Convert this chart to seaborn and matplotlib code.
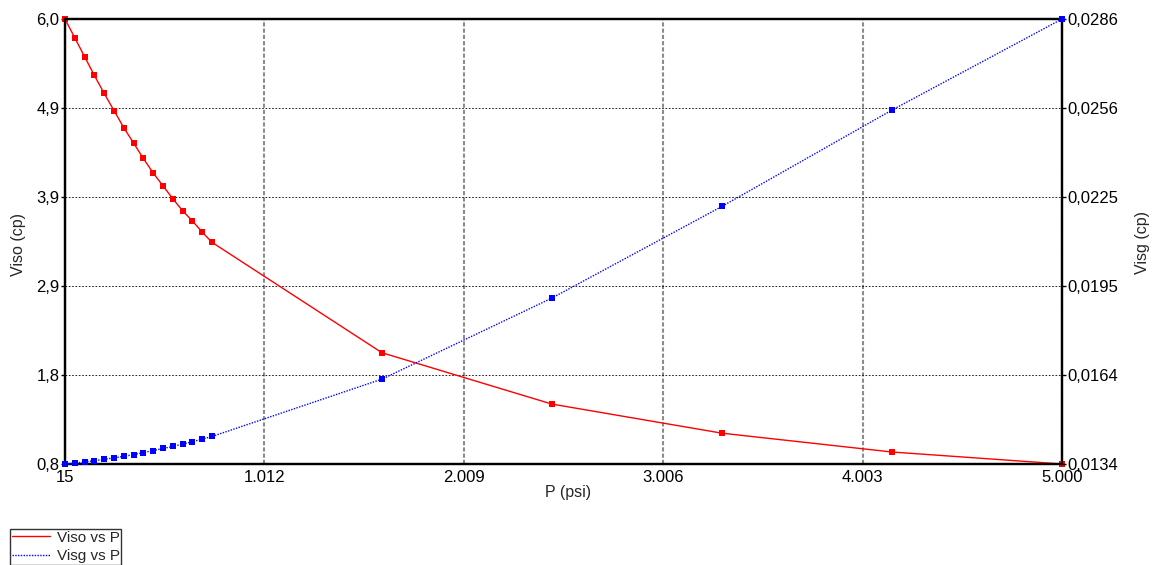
import numpy as np
import pandas as pd
import seaborn as sns
import matplotlib.pyplot as plt
from matplotlib.lines import Line2D

# pressures (psi) and viscosities
pressure = [15, 64, 113, 162, 211, 260, 309, 358, 407, 456, 505, 554, 603, 652, 701, 750,
            1600, 2450, 3300, 4150, 5000]
viso = [6.00, 5.78, 5.56, 5.34, 5.13, 4.93, 4.73, 4.55, 4.37, 4.20, 4.05, 3.90, 3.76, 3.64,
        3.51, 3.39, 2.10, 1.50, 1.16, 0.94, 0.80]
visg = [0.01340, 0.01343, 0.01347, 0.01351, 0.01356, 0.01361, 0.01366, 0.01372, 0.01379,
        0.01386, 0.01393, 0.01400, 0.01408, 0.01416, 0.01425, 0.01434,
        0.01630, 0.01907, 0.02220, 0.02549, 0.02860]

x_ticks = [15, 1012, 2009, 3006, 4003, 5000]
x_labels = ['15', '1.012', '2.009', '3.006', '4.003', '5.000']
viso_ticks = [0.8, 1.84, 2.88, 3.92, 4.96, 6.0]
viso_labels = ['0,8', '1,8', '2,9', '3,9', '4,9', '6,0']
visg_ticks = [0.0134, 0.01644, 0.01948, 0.02252, 0.02556, 0.0286]
visg_labels = ['0,0134', '0,0164', '0,0195', '0,0225', '0,0256', '0,0286']

df = pd.DataFrame({'P': pressure, 'Viso': viso, 'Visg': visg})

sns.set_style('white')
plt.rcParams['font.family'] = ['Liberation Sans', 'DejaVu Sans']

W, H = 1155, 565
fig = plt.figure(figsize=(W / 100, H / 100), dpi=100)
ax = fig.add_axes([65 / W, 1 - 464 / H, 997 / W, 445 / H])
ax2 = ax.twinx()

sns.lineplot(data=df, x='P', y='Viso', ax=ax, color='red', lw=1, marker='s',
             markersize=4.5, markeredgewidth=0, clip_on=False, zorder=3)
sns.lineplot(data=df, x='P', y='Visg', ax=ax2, color='blue', lw=1, linestyle=(0, (1, 1)),
             marker='s', markersize=4.5, markeredgewidth=0, clip_on=False, zorder=3)

ax.set_xlim(15, 5000)
ax.set_ylim(0.8, 6.0)
ax2.set_ylim(0.0134, 0.0286)

ax.set_xticks(x_ticks, labels=x_labels)
ax.set_yticks(viso_ticks, labels=viso_labels)
ax2.set_yticks(visg_ticks, labels=visg_labels)

ax.set_axisbelow(True)
ax.xaxis.grid(True, color='#8c8c8c', linestyle=(0, (2, 1)), lw=1.5)
ax.yaxis.grid(True, color='black', linestyle=(0, (2, 2)), lw=0.6)

for a in (ax, ax2):
    a.tick_params(labelsize=12, length=3, width=1, pad=1, colors='black')
    for s in a.spines.values():
        s.set_color('black')
        s.set_linewidth(1.6)
    a.set_xlabel('')
    a.set_ylabel('')

fig.text(18 / W, 1 - 244 / H, 'Viso (cp)', rotation=90, ha='center', va='center', fontsize=11.5)
fig.text(1143 / W, 1 - 243 / H, 'Visg (cp)', rotation=90, ha='center', va='center', fontsize=11.5)
fig.text(568 / W, 1 - 492 / H, 'P (psi)', ha='center', va='center', fontsize=11.5)

handles = [Line2D([], [], color='red', lw=1),
           Line2D([], [], color='blue', lw=1, linestyle=(0, (1, 1)))]
leg = fig.legend(handles, ['Viso vs P', 'Visg vs P'], loc='upper left',
                 bbox_to_anchor=(10 / W, 1 - 529 / H), frameon=True, fancybox=False,
                 edgecolor='black', borderpad=0.1, handlelength=2.5, handletextpad=0.45,
                 labelspacing=0.3, borderaxespad=0, fontsize=11)
leg.get_frame().set_linewidth(1)

fig.savefig('out.png', dpi=100)
